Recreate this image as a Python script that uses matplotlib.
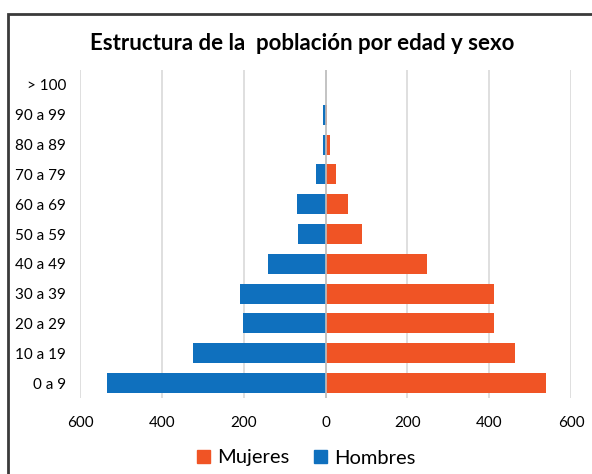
import numpy as np
import matplotlib
matplotlib.use("Agg")
import matplotlib.pyplot as plt
from matplotlib.patches import Rectangle, Patch
from matplotlib.ticker import FuncFormatter

# --- Data ---
age_groups = ["0 a 9", "10 a 19", "20 a 29", "30 a 39", "40 a 49", "50 a 59",
              "60 a 69", "70 a 79", "80 a 89", "90 a 99", "> 100"]
hombres = [535, 323, 202, 210, 140, 66, 69, 24, 5, 5, 0]
mujeres = [538, 463, 411, 411, 248, 88, 54, 26, 12, 4, 0]

x_ticks = [-600, -400, -200, 0, 200, 400, 600]

blue = "#0F70BE"
orange = "#F05425"
grid_color = "#D9D9D9"

plt.rcParams['font.family'] = ['Lato', 'DejaVu Sans']

fig = plt.figure(figsize=(5.92, 4.74), dpi=100)
ax = fig.add_axes([80 / 592, 1 - 398 / 474, (571 - 80) / 592, (398 - 70) / 474])

y = np.arange(len(age_groups))
ax.barh(y, -np.array(hombres), height=0.67, color=blue, zorder=3)
ax.barh(y, mujeres, height=0.67, color=orange, zorder=3)

ax.set_xlim(-600, 600)
ax.set_ylim(-0.5, len(age_groups) - 0.5)
ax.set_xticks(x_ticks)
ax.xaxis.set_major_formatter(FuncFormatter(lambda v, p: f"{abs(int(v))}"))
ax.set_yticks(y)
ax.set_yticklabels(age_groups)

# --- Grid and spines ---
ax.grid(axis="x", color=grid_color, linewidth=1.2, zorder=0)
ax.axvline(0, color="#BFBFBF", linewidth=1.2, zorder=4)
for s in ax.spines.values():
    s.set_visible(False)
ax.tick_params(axis="both", length=0, labelsize=11, colors="#000000")
ax.tick_params(axis="x", pad=13)
ax.tick_params(axis="y", pad=10)

# --- Title ---
fig.text(0.51, 1 - 43 / 474, "Estructura de la  población por edad y sexo",
         ha="center", va="center", fontsize=16, fontweight="bold")

# --- Legend ---
handles = [Patch(color=orange, label="Mujeres"), Patch(color=blue, label="Hombres")]
fig.legend(handles=handles, loc="center", bbox_to_anchor=(306 / 592, 1 - 458 / 474),
           ncol=2, frameon=False, fontsize=14.5, handlelength=0.65, handleheight=0.65,
           handletextpad=0.35, columnspacing=1.2)

# --- Outer border ---
fig.patches.append(Rectangle((8 / 592, -0.02), 1.05, 1 - 14 / 474 + 0.02,
                             transform=fig.transFigure, fill=False,
                             edgecolor="#3A3A3A", linewidth=2, zorder=10))

fig.savefig("out.png", dpi=100)
